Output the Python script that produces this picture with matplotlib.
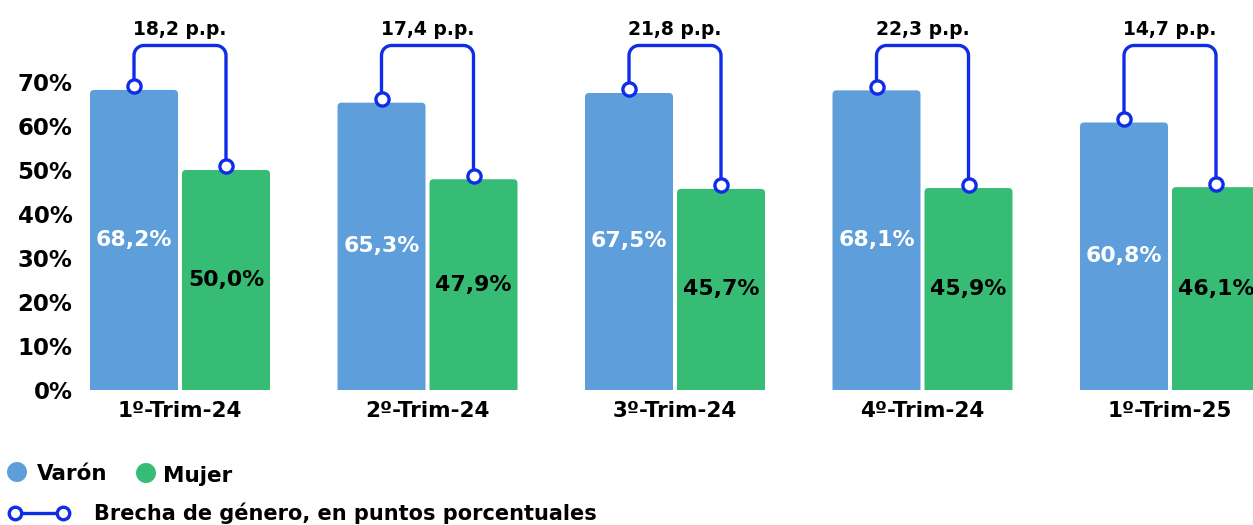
import numpy as np
import matplotlib
matplotlib.use("Agg")
import matplotlib.pyplot as plt
from matplotlib.patches import FancyBboxPatch, Ellipse
from matplotlib.lines import Line2D

plt.rcParams['font.family'] = ['DejaVu Sans']
plt.rcParams['font.weight'] = 'bold'

categories = ["1º-Trim-24", "2º-Trim-24", "3º-Trim-24", "4º-Trim-24", "1º-Trim-25"]
varon = [68.2, 65.3, 67.5, 68.1, 60.8]
mujer = [50.0, 47.9, 45.7, 45.9, 46.1]
brecha = [18.2, 17.4, 21.8, 22.3, 14.7]
yticks = [0, 10, 20, 30, 40, 50, 60, 70]

C_V = "#5e9fdb"
C_M = "#36bc74"
C_B = "#0f2de6"

def es(v):
    return f"{v:.1f}".replace(".", ",")

W, H = 1253, 525
fig = plt.figure(figsize=(W / 100, H / 100), dpi=100)
ax_left_px, ax_right_px = 85, 1253
ax = fig.add_axes([ax_left_px / W, (H - 390) / H, (ax_right_px - ax_left_px) / W, 387.2 / H])
ylim = (0, 88)
spacing_px = 247.5
c0 = 180
xlim = ((ax_left_px - c0) / spacing_px, (ax_right_px - c0) / spacing_px)
ax.set_xlim(*xlim)
ax.set_ylim(*ylim)

x = np.arange(len(categories))
off = 46 / spacing_px
bw = 88 / spacing_px
px_x = 1 / spacing_px
px_y = ylim[1] / 387.2
aspect = px_y / px_x

for xi, v, m in zip(x, varon, mujer):
    for cx, val, col in [(xi - off, v, C_V), (xi + off, m, C_M)]:
        p = FancyBboxPatch((cx - bw / 2, -5), bw, val + 5,
                           boxstyle=f"round,pad=0,rounding_size={4 * px_x}",
                           mutation_aspect=aspect, fc=col, ec="none", zorder=2)
        ax.add_patch(p)
    ax.text(xi - off, v / 2, es(v) + "%", color="white",
            ha="center", va="center", fontsize=15.8, fontweight="bold", zorder=3)
    ax.text(xi + off, m / 2, es(m) + "%", color="black",
            ha="center", va="center", fontsize=15.8, fontweight="bold", zorder=3)

# brackets
top = 78.3
rx, ry = 10 * px_x, 10 * px_y
t = np.linspace(0, np.pi / 2, 12)
for xi, v, m, b in zip(x, varon, mujer, brecha):
    xa, xb = xi - off, xi + off
    ya, yb = v + 0.8, m + 0.8
    lx = xa + rx - rx * np.cos(t)
    ly = top - ry + ry * np.sin(t)
    rxs = xb - rx + rx * np.cos(t[::-1])
    rys = top - ry + ry * np.sin(t[::-1])
    xs = np.concatenate([[xa], lx, rxs, [xb]])
    ys = np.concatenate([[ya], ly, rys, [yb]])
    ax.plot(xs, ys, color=C_B, lw=2.4, solid_capstyle="round", solid_joinstyle="round", zorder=4)
    ax.plot([xa, xb], [ya, yb], ls="none", marker="o", ms=9.5, mfc="white", mec=C_B, mew=2.4, zorder=5)
    ax.text(xi, 82.0, es(b) + " p.p.", ha="center", va="center",
            fontsize=13.5, fontweight="bold", color="black", zorder=5)

ax.set_yticks(yticks)
ax.set_yticklabels([f"{v}%" for v in yticks], fontsize=16.5, fontweight="bold")
ax.set_xticks(x)
ax.set_xticklabels(categories, fontsize=15.5, fontweight="bold")
ax.tick_params(length=0)
ax.tick_params(axis="y", pad=9)
ax.tick_params(axis="x", pad=8)
for s in ax.spines.values():
    s.set_visible(False)

# legend
def fx(px):
    return px / W

def fy(py):
    return 1 - py / H

fig.patches.append(Ellipse((fx(17), fy(472)), 20 / W, 20 / H, transform=fig.transFigure,
                           fc=C_V, ec="none", figure=fig))
fig.text(fx(37), fy(474), "Varón", fontsize=15.5, fontweight="bold", va="center", ha="left")
fig.patches.append(Ellipse((fx(146), fy(473)), 20 / W, 20 / H, transform=fig.transFigure,
                           fc=C_M, ec="none", figure=fig))
fig.text(fx(163), fy(476), "Mujer", fontsize=15.5, fontweight="bold", va="center", ha="left")
fig.lines.append(Line2D([fx(15), fx(63)], [fy(513), fy(513)], transform=fig.transFigure,
                        color=C_B, lw=2.4, marker="o", ms=9, mfc="white", mec=C_B, mew=2.4, figure=fig))
fig.text(fx(94), fy(513), "Brecha de género, en puntos porcentuales", fontsize=15,
         fontweight="bold", va="center", ha="left")

fig.savefig("out.png", dpi=100)
